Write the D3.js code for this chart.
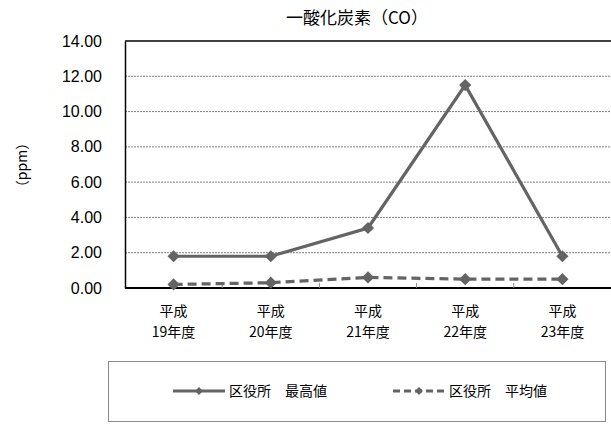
<!DOCTYPE html>
<html><head><meta charset="utf-8">
<script src="https://cdn.jsdelivr.net/npm/d3@7"></script>
<style>body{margin:0;background:#fff}svg{display:block}</style>
</head><body>
<svg id="c" width="611" height="425"></svg>
<script>
const categoriesTop = ["平成","平成","平成","平成","平成"];
const categoriesBottom = ["19年度","20年度","21年度","22年度","23年度"];
const maxValues = [1.8, 1.8, 3.4, 11.5, 1.8];
const avgValues = [0.2, 0.3, 0.6, 0.5, 0.5];
const yTicks = [0,2,4,6,8,10,12,14];
const seriesNames = ["区役所　最高値","区役所　平均値"];
const title = "一酸化炭素（CO）";
const yTitle = "（ppm）";

const svg = d3.select("#c");
const W = 611, H = 425;
const m = {left:125, right:0, top:41, bottom:137};
const x = d3.scaleBand().domain(d3.range(5)).range([m.left, W - m.right]).padding(0);
const y = d3.scaleLinear().domain([0,14]).range([H - m.bottom, m.top]);
const font = "'Noto Sans CJK JP', 'Liberation Sans', sans-serif";
const col = "#646464";

// gridlines
svg.append("g").selectAll("line").data(yTicks.filter(d => d>0 && d<14)).join("line")
  .attr("x1", m.left).attr("x2", W).attr("y1", d=>y(d)).attr("y2", d=>y(d))
  .attr("stroke", "#808080").attr("stroke-width", 1).attr("stroke-dasharray", "2,1");
// top border
svg.append("line").attr("x1", m.left).attr("x2", W).attr("y1", y(14)).attr("y2", y(14))
  .attr("stroke", "#000").attr("stroke-width", 1.5);

// y axis
const yAxis = d3.axisLeft(y).tickValues(yTicks).tickFormat(d3.format(".2f")).tickSize(0).tickPadding(23);
const gy = svg.append("g").attr("transform", `translate(${m.left},0)`).call(yAxis);
gy.select(".domain").attr("stroke", "#000").attr("stroke-width", 1.5);
gy.selectAll("text").attr("font-family", "'Liberation Sans', Arial, sans-serif").attr("font-size", 16).attr("fill", "#000");

// x axis
const gx = svg.append("g").attr("transform", `translate(0,${y(0)})`);
gx.append("line").attr("x1", m.left).attr("x2", W).attr("stroke", "#000").attr("stroke-width", 2);
gx.selectAll("line.tk").data(d3.range(1,5)).join("line").attr("class","tk")
  .attr("x1", d=>x(d)).attr("x2", d=>x(d)).attr("y1", 0).attr("y2", -5)
  .attr("stroke", "#888").attr("stroke-width", 1);
const xl = svg.append("g").attr("font-family", font).attr("font-size", 14).attr("text-anchor", "middle").attr("fill","#000");
xl.selectAll("text.a").data(categoriesTop).join("text").attr("class","a")
  .attr("x", (d,i)=>x(i)+x.bandwidth()/2).attr("y", 316).text(d=>d);
xl.selectAll("text.b").data(categoriesBottom).join("text").attr("class","b")
  .attr("x", (d,i)=>x(i)+x.bandwidth()/2).attr("y", 337).text(d=>d);

// titles
svg.append("text").attr("x", 357).attr("y", 24).attr("text-anchor","middle")
  .attr("font-family", font).attr("font-size", 17).text(title);
svg.append("text").attr("transform", "translate(27,165) rotate(-90)").attr("text-anchor","middle")
  .attr("font-family", font).attr("font-size", 14).text(yTitle);

const line = d3.line().x((d,i)=>x(i)+x.bandwidth()/2).y(d=>y(d));
const diamond = d3.symbol().type(d3.symbolDiamond2).size(95);
function series(vals, dash){
  svg.append("path").datum(vals).attr("d", line).attr("fill","none")
    .attr("stroke", col).attr("stroke-width", 3.2).attr("stroke-dasharray", dash);
  svg.append("g").selectAll("path").data(vals).join("path")
    .attr("d", diamond).attr("fill", col)
    .attr("transform", (d,i)=>`translate(${x(i)+x.bandwidth()/2},${y(d)})`);
}
series(maxValues, null);
series(avgValues, "9,5");

// legend
const lg = svg.append("g");
lg.append("rect").attr("x", 108.5).attr("y", 361.5).attr("width", 497).attr("height", 60)
  .attr("fill","none").attr("stroke","#888").attr("stroke-width",1);
const items = [{x:173, dash:null},{x:393, dash:"7,4"}];
items.forEach((it,i)=>{
  lg.append("line").attr("x1", it.x).attr("x2", it.x+52).attr("y1", 391).attr("y2", 391)
    .attr("stroke", col).attr("stroke-width", 3).attr("stroke-dasharray", it.dash);
  lg.append("path").attr("d", d3.symbol().type(d3.symbolDiamond2).size(40)).attr("fill", col)
    .attr("transform", `translate(${it.x+26},391)`);
  lg.append("text").attr("x", it.x+56).attr("y", 396).attr("font-family", font).attr("font-size", 14)
    .text(seriesNames[i]);
});
</script>
</body></html>
